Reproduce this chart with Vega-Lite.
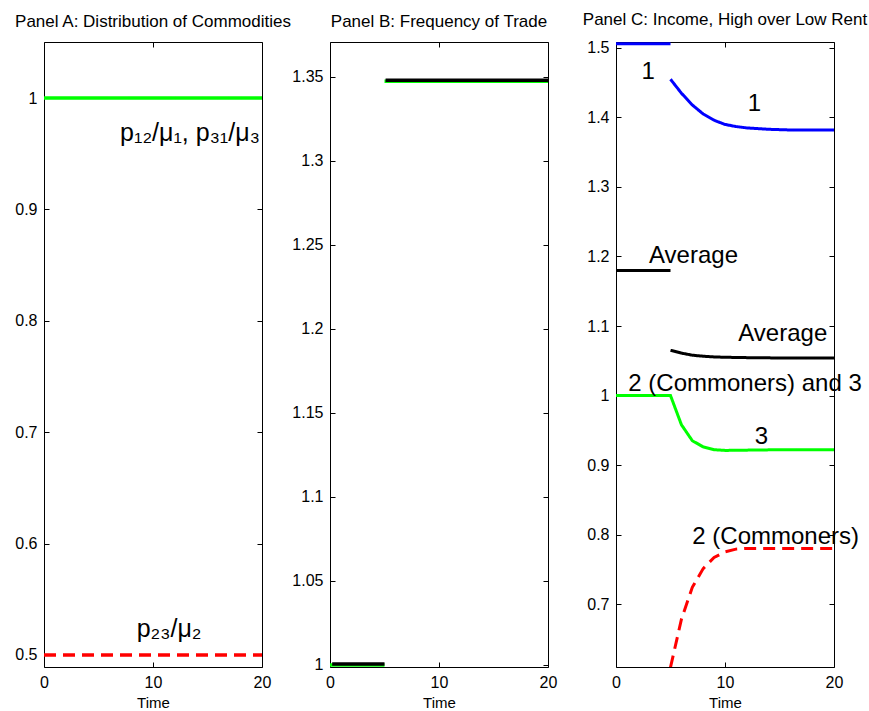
{
  "$schema": "https://vega.github.io/schema/vega-lite/v6.json",
  "padding": {"left": 14, "top": 10, "right": 0, "bottom": 0},
  "bounds": "flush",
  "spacing": 68,
  "config": {
    "font": "Liberation Sans",
    "view": {"stroke": "black", "strokeWidth": 1},
    "axis": {
      "labelFont": "Liberation Sans", "labelFontSize": 16, "labelColor": "black",
      "titleFont": "Liberation Sans", "titleFontSize": 15, "titleFontWeight": "normal", "titleColor": "black",
      "tickColor": "black", "domain": false, "grid": false, "tickSize": -5, "labelPadding": 12, "titlePadding": 5,
      "labelFlush": false, "labelOverlap": false
    },
    "title": {"font": "Liberation Sans", "fontSize": 17, "fontWeight": "normal", "color": "black", "offset": 11},
    "text": {"font": "Liberation Sans", "fontSize": 24, "color": "black"}
  },
  "datasets": {
    "A": [
      {"series": "p12/μ1, p31/μ3", "seg": "all", "t": 0, "v": 1.0},
      {"series": "p12/μ1, p31/μ3", "seg": "all", "t": 20, "v": 1.0},
      {"series": "p23/μ2", "seg": "all", "t": 0, "v": 0.5},
      {"series": "p23/μ2", "seg": "all", "t": 20, "v": 0.5}
    ],
    "Alab_right": [
      {"t": 19.8, "v": 0.969, "label": "p₁₂/μ₁, p₃₁/μ₃"}
    ],
    "Alab_left": [
      {"t": 8.5, "v": 0.523, "label": "p₂₃/μ₂"}
    ],
    "Bg": [
      {"series": "Frequency (a)", "seg": "pre", "t": 0, "v": 1.0},
      {"series": "Frequency (a)", "seg": "pre", "t": 5, "v": 1.0},
      {"series": "Frequency (a)", "seg": "post", "t": 5, "v": 1.3475},
      {"series": "Frequency (a)", "seg": "post", "t": 20, "v": 1.3475}
    ],
    "Bk": [
      {"series": "Frequency (b)", "seg": "pre", "t": 0.2, "v": 1.0006},
      {"series": "Frequency (b)", "seg": "pre", "t": 5, "v": 1.0006},
      {"series": "Frequency (b)", "seg": "post", "t": 5.1, "v": 1.348},
      {"series": "Frequency (b)", "seg": "post", "t": 20, "v": 1.348}
    ],
    "C": [
      {"series": "1", "seg": "pre", "t": 0, "v": 1.506},
      {"series": "1", "seg": "pre", "t": 5, "v": 1.506},
      {"series": "1", "seg": "post", "t": 5, "v": 1.455},
      {"series": "1", "seg": "post", "t": 6, "v": 1.435},
      {"series": "1", "seg": "post", "t": 7, "v": 1.418},
      {"series": "1", "seg": "post", "t": 8, "v": 1.405},
      {"series": "1", "seg": "post", "t": 9, "v": 1.396},
      {"series": "1", "seg": "post", "t": 10, "v": 1.390},
      {"series": "1", "seg": "post", "t": 11, "v": 1.387},
      {"series": "1", "seg": "post", "t": 12, "v": 1.385},
      {"series": "1", "seg": "post", "t": 13, "v": 1.384},
      {"series": "1", "seg": "post", "t": 14, "v": 1.383},
      {"series": "1", "seg": "post", "t": 16, "v": 1.382},
      {"series": "1", "seg": "post", "t": 20, "v": 1.382},
      {"series": "Average", "seg": "pre", "t": 0, "v": 1.18},
      {"series": "Average", "seg": "pre", "t": 5, "v": 1.18},
      {"series": "Average", "seg": "post", "t": 5, "v": 1.065},
      {"series": "Average", "seg": "post", "t": 6, "v": 1.061},
      {"series": "Average", "seg": "post", "t": 7, "v": 1.058},
      {"series": "Average", "seg": "post", "t": 8, "v": 1.0565},
      {"series": "Average", "seg": "post", "t": 9, "v": 1.0555},
      {"series": "Average", "seg": "post", "t": 10, "v": 1.055},
      {"series": "Average", "seg": "post", "t": 12, "v": 1.0545},
      {"series": "Average", "seg": "post", "t": 15, "v": 1.054},
      {"series": "Average", "seg": "post", "t": 20, "v": 1.054},
      {"series": "3", "seg": "all", "t": 0, "v": 1.0},
      {"series": "3", "seg": "all", "t": 5, "v": 1.0},
      {"series": "3", "seg": "all", "t": 6, "v": 0.958},
      {"series": "3", "seg": "all", "t": 7, "v": 0.935},
      {"series": "3", "seg": "all", "t": 8, "v": 0.926},
      {"series": "3", "seg": "all", "t": 9, "v": 0.922},
      {"series": "3", "seg": "all", "t": 10, "v": 0.921},
      {"series": "3", "seg": "all", "t": 15, "v": 0.922},
      {"series": "3", "seg": "all", "t": 20, "v": 0.922},
      {"series": "2 (Commoners)", "seg": "all", "t": 5, "v": 0.609},
      {"series": "2 (Commoners)", "seg": "all", "t": 6, "v": 0.678},
      {"series": "2 (Commoners)", "seg": "all", "t": 7, "v": 0.724},
      {"series": "2 (Commoners)", "seg": "all", "t": 8, "v": 0.751},
      {"series": "2 (Commoners)", "seg": "all", "t": 9, "v": 0.767},
      {"series": "2 (Commoners)", "seg": "all", "t": 10, "v": 0.775},
      {"series": "2 (Commoners)", "seg": "all", "t": 11, "v": 0.779},
      {"series": "2 (Commoners)", "seg": "all", "t": 12, "v": 0.780},
      {"series": "2 (Commoners)", "seg": "all", "t": 20, "v": 0.780}
    ],
    "Clab_left": [
      {"t": 3.03, "v": 1.200, "label": "Average"},
      {"t": 11.22, "v": 1.088, "label": "Average"},
      {"t": 1.13, "v": 1.017, "label": "2 (Commoners) and 3"},
      {"t": 7.0, "v": 0.797, "label": "2 (Commoners)"}
    ],
    "Clab_center": [
      {"t": 2.95, "v": 1.466, "label": "1"},
      {"t": 12.7, "v": 1.420, "label": "1"},
      {"t": 13.35, "v": 0.941, "label": "3"}
    ]
  },
  "hconcat": [
    {
      "title": "Panel A: Distribution of Commodities",
      "width": 218, "height": 625,
      "resolve": {"axis": {"x": "independent", "y": "independent"}},
      "layer": [
        {
          "data": {"name": "A"},
          "mark": {"type": "line", "strokeWidth": 3.5, "clip": true},
          "encoding": {
            "x": {"field": "t", "type": "quantitative", "scale": {"domain": [0, 20], "nice": false}, "axis": {"values": [0, 10, 20], "title": "Time"}},
            "y": {"field": "v", "type": "quantitative", "scale": {"domain": [0.4892, 1.0503], "nice": false, "zero": false}, "axis": {"values": [0.5, 0.6, 0.7, 0.8, 0.9, 1], "format": "~g", "title": null}},
            "color": {"field": "series", "type": "nominal", "legend": null,
              "scale": {"domain": ["p12/μ1, p31/μ3", "p23/μ2", "Frequency (a)", "Frequency (b)", "1", "Average", "3", "2 (Commoners)"],
                        "range": ["#00ff00", "#ff0000", "#00ff00", "#000000", "#0000ff", "#000000", "#00ff00", "#ff0000"]}},
            "strokeDash": {"field": "series", "type": "nominal", "legend": null,
              "scale": {"domain": ["p12/μ1, p31/μ3", "p23/μ2", "Frequency (a)", "Frequency (b)", "1", "Average", "3", "2 (Commoners)"],
                        "range": [[1, 0], [12, 7], [1, 0], [1, 0], [1, 0], [1, 0], [1, 0], [12, 7]]}},
            "detail": {"field": "seg"}
          }
        },
        {
          "data": {"name": "Alab_right"},
          "mark": {"type": "text", "align": "right", "baseline": "middle", "fontSize": 25},
          "encoding": {
            "x": {"field": "t", "type": "quantitative", "axis": {"orient": "top", "values": [0, 10, 20], "labels": false, "title": null}},
            "y": {"field": "v", "type": "quantitative", "axis": {"orient": "right", "values": [0.5, 0.6, 0.7, 0.8, 0.9, 1], "labels": false, "title": null}},
            "text": {"field": "label"}
          }
        },
        {
          "data": {"name": "Alab_left"},
          "mark": {"type": "text", "align": "left", "baseline": "middle", "fontSize": 25},
          "encoding": {
            "x": {"field": "t", "type": "quantitative", "axis": null},
            "y": {"field": "v", "type": "quantitative", "axis": null},
            "text": {"field": "label"}
          }
        }
      ]
    },
    {
      "title": "Panel B: Frequency of Trade",
      "width": 218, "height": 625,
      "resolve": {"axis": {"x": "independent", "y": "independent"}},
      "layer": [
        {
          "data": {"name": "Bg"},
          "mark": {"type": "line", "strokeWidth": 3.5, "clip": true},
          "encoding": {
            "x": {"field": "t", "type": "quantitative", "scale": {"domain": [0, 20], "nice": false}, "axis": {"values": [0, 10, 20], "title": "Time"}},
            "y": {"field": "v", "type": "quantitative", "scale": {"domain": [0.9988, 1.3708], "nice": false, "zero": false}, "axis": {"values": [1, 1.05, 1.1, 1.15, 1.2, 1.25, 1.3, 1.35], "format": "~g", "title": null}},
            "color": {"field": "series", "type": "nominal", "legend": null,
              "scale": {"domain": ["p12/μ1, p31/μ3", "p23/μ2", "Frequency (a)", "Frequency (b)", "1", "Average", "3", "2 (Commoners)"],
                        "range": ["#00ff00", "#ff0000", "#00ff00", "#000000", "#0000ff", "#000000", "#00ff00", "#ff0000"]}},
            "detail": {"field": "seg"}
          }
        },
        {
          "data": {"name": "Bk"},
          "mark": {"type": "line", "strokeWidth": 3.5, "clip": true},
          "encoding": {
            "x": {"field": "t", "type": "quantitative", "axis": {"orient": "top", "values": [0, 10, 20], "labels": false, "title": null}},
            "y": {"field": "v", "type": "quantitative", "axis": {"orient": "right", "values": [1, 1.05, 1.1, 1.15, 1.2, 1.25, 1.3, 1.35], "labels": false, "title": null}},
            "color": {"field": "series", "type": "nominal", "legend": null},
            "detail": {"field": "seg"}
          }
        }
      ]
    },
    {
      "title": "Panel C: Income, High over Low Rent",
      "width": 218, "height": 625,
      "resolve": {"axis": {"x": "independent", "y": "independent"}},
      "layer": [
        {
          "data": {"name": "C"},
          "mark": {"type": "line", "strokeWidth": 3, "clip": true},
          "encoding": {
            "x": {"field": "t", "type": "quantitative", "scale": {"domain": [0, 20], "nice": false}, "axis": {"values": [0, 10, 20], "title": "Time"}},
            "y": {"field": "v", "type": "quantitative", "scale": {"domain": [0.6094, 1.5086], "nice": false, "zero": false}, "axis": {"values": [0.7, 0.8, 0.9, 1, 1.1, 1.2, 1.3, 1.4, 1.5], "format": "~g", "title": null}},
            "color": {"field": "series", "type": "nominal", "legend": null,
              "scale": {"domain": ["p12/μ1, p31/μ3", "p23/μ2", "Frequency (a)", "Frequency (b)", "1", "Average", "3", "2 (Commoners)"],
                        "range": ["#00ff00", "#ff0000", "#00ff00", "#000000", "#0000ff", "#000000", "#00ff00", "#ff0000"]}},
            "strokeDash": {"field": "series", "type": "nominal", "legend": null,
              "scale": {"domain": ["p12/μ1, p31/μ3", "p23/μ2", "Frequency (a)", "Frequency (b)", "1", "Average", "3", "2 (Commoners)"],
                        "range": [[1, 0], [12, 7], [1, 0], [1, 0], [1, 0], [1, 0], [1, 0], [12, 7]]}},
            "detail": {"field": "seg"}
          }
        },
        {
          "data": {"name": "Clab_left"},
          "mark": {"type": "text", "align": "left", "baseline": "middle"},
          "encoding": {
            "x": {"field": "t", "type": "quantitative", "axis": {"orient": "top", "values": [0, 10, 20], "labels": false, "title": null}},
            "y": {"field": "v", "type": "quantitative", "axis": {"orient": "right", "values": [0.7, 0.8, 0.9, 1, 1.1, 1.2, 1.3, 1.4, 1.5], "labels": false, "title": null}},
            "text": {"field": "label"}
          }
        },
        {
          "data": {"name": "Clab_center"},
          "mark": {"type": "text", "align": "center", "baseline": "middle"},
          "encoding": {
            "x": {"field": "t", "type": "quantitative", "axis": null},
            "y": {"field": "v", "type": "quantitative", "axis": null},
            "text": {"field": "label"}
          }
        }
      ]
    }
  ]
}
